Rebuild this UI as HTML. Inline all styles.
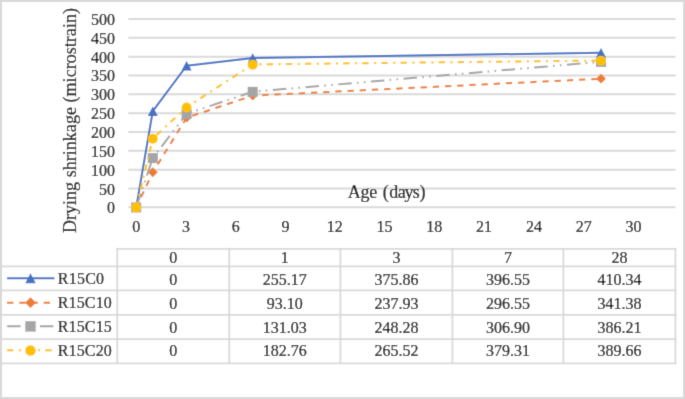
<!DOCTYPE html><html><head><meta charset="utf-8"><style>html,body{margin:0;padding:0;background:#fff;}svg{display:block;will-change:transform;}text{font-family:"Liberation Serif", serif;font-size:16px;fill:#000;stroke:#000;stroke-width:0.2px;}</style></head><body>
<svg width="685" height="399" viewBox="0 0 685 399">
<defs><filter id="bl" x="0" y="0" width="685" height="399" filterUnits="userSpaceOnUse"><feConvolveMatrix order="3" kernelMatrix="0.0144 0.0912 0.0144 0.0912 0.5776 0.0912 0.0144 0.0912 0.0144" divisor="1" edgeMode="duplicate" preserveAlpha="false"/></filter></defs>
<g filter="url(#bl)">
<rect x="0" y="0" width="685" height="399" fill="#fff"/>
<line x1="128.3" y1="207.35" x2="675.5" y2="207.35" stroke="#d9d9d9" stroke-width="2"/>
<line x1="128.3" y1="188.51" x2="675.5" y2="188.51" stroke="#d9d9d9" stroke-width="2"/>
<line x1="128.3" y1="169.67" x2="675.5" y2="169.67" stroke="#d9d9d9" stroke-width="2"/>
<line x1="128.3" y1="150.83" x2="675.5" y2="150.83" stroke="#d9d9d9" stroke-width="2"/>
<line x1="128.3" y1="131.99" x2="675.5" y2="131.99" stroke="#d9d9d9" stroke-width="2"/>
<line x1="128.3" y1="113.15" x2="675.5" y2="113.15" stroke="#d9d9d9" stroke-width="2"/>
<line x1="128.3" y1="94.31" x2="675.5" y2="94.31" stroke="#d9d9d9" stroke-width="2"/>
<line x1="128.3" y1="75.47" x2="675.5" y2="75.47" stroke="#d9d9d9" stroke-width="2"/>
<line x1="128.3" y1="56.63" x2="675.5" y2="56.63" stroke="#d9d9d9" stroke-width="2"/>
<line x1="128.3" y1="37.79" x2="675.5" y2="37.79" stroke="#d9d9d9" stroke-width="2"/>
<line x1="128.3" y1="18.95" x2="675.5" y2="18.95" stroke="#d9d9d9" stroke-width="2"/>
<text x="115" y="213.35" text-anchor="end">0</text>
<text x="115" y="194.51" text-anchor="end">50</text>
<text x="115" y="175.67" text-anchor="end">100</text>
<text x="115" y="156.83" text-anchor="end">150</text>
<text x="115" y="137.99" text-anchor="end">200</text>
<text x="115" y="119.15" text-anchor="end">250</text>
<text x="115" y="100.31" text-anchor="end">300</text>
<text x="115" y="81.47" text-anchor="end">350</text>
<text x="115" y="62.63" text-anchor="end">400</text>
<text x="115" y="43.79" text-anchor="end">450</text>
<text x="115" y="24.95" text-anchor="end">500</text>
<text x="136.20" y="232.1" text-anchor="middle">0</text>
<text x="186.00" y="232.1" text-anchor="middle">3</text>
<text x="235.80" y="232.1" text-anchor="middle">6</text>
<text x="285.60" y="232.1" text-anchor="middle">9</text>
<text x="334.70" y="232.1" text-anchor="middle">12</text>
<text x="384.50" y="232.1" text-anchor="middle">15</text>
<text x="434.30" y="232.1" text-anchor="middle">18</text>
<text x="484.10" y="232.1" text-anchor="middle">21</text>
<text x="533.90" y="232.1" text-anchor="middle">24</text>
<text x="583.70" y="232.1" text-anchor="middle">27</text>
<text x="633.50" y="232.1" text-anchor="middle">30</text>
<text x="347.7 360.53 369.36 377.19 382.83 389.16 397.69 404.62 412.85 419.4" y="197.5" style="font-size:18px">Age (days)</text>
<text transform="translate(76.1,233.1) rotate(-90)" style="font-size:18px" textLength="225.1" lengthAdjust="spacing">Drying shrinkage (microstrain)</text>
<path d="M136.20 207.35 L152.80 111.20 L186.60 65.73 L252.70 57.93 L601.00 52.73" fill="none" stroke="#4472C4" stroke-width="2" stroke-linejoin="round"/>
<path d="M136.20 202.65 L141.20 212.05 L131.20 212.05 Z" fill="#4472C4"/>
<path d="M152.80 106.50 L157.80 115.90 L147.80 115.90 Z" fill="#4472C4"/>
<path d="M186.60 61.03 L191.60 70.43 L181.60 70.43 Z" fill="#4472C4"/>
<path d="M252.70 53.23 L257.70 62.63 L247.70 62.63 Z" fill="#4472C4"/>
<path d="M601.00 48.03 L606.00 57.43 L596.00 57.43 Z" fill="#4472C4"/>
<path d="M136.20 207.35 L152.80 172.27 L186.60 117.70 L252.70 95.61 L601.00 78.72" fill="none" stroke="#ED7D31" stroke-width="2" stroke-linejoin="round" stroke-dasharray="6.3 5.9" stroke-dashoffset="0.8"/>
<path d="M136.20 202.45 L141.10 207.35 L136.20 212.25 L131.30 207.35 Z" fill="#ED7D31"/>
<path d="M152.80 167.37 L157.70 172.27 L152.80 177.17 L147.90 172.27 Z" fill="#ED7D31"/>
<path d="M186.60 112.80 L191.50 117.70 L186.60 122.60 L181.70 117.70 Z" fill="#ED7D31"/>
<path d="M252.70 90.71 L257.60 95.61 L252.70 100.51 L247.80 95.61 Z" fill="#ED7D31"/>
<path d="M601.00 73.82 L605.90 78.72 L601.00 83.62 L596.10 78.72 Z" fill="#ED7D31"/>
<path d="M136.20 207.35 L152.80 157.98 L186.60 113.80 L252.70 91.71 L601.00 61.83" fill="none" stroke="#A5A5A5" stroke-width="2" stroke-linejoin="round" stroke-dasharray="13.5 5.3 1.6 5.3 1.6 5.5" stroke-dashoffset="-0.8"/>
<rect x="131.20" y="202.45" width="10.00" height="10.00" fill="#A5A5A5"/>
<rect x="147.80" y="153.08" width="10.00" height="10.00" fill="#A5A5A5"/>
<rect x="181.60" y="108.90" width="10.00" height="10.00" fill="#A5A5A5"/>
<rect x="247.70" y="86.81" width="10.00" height="10.00" fill="#A5A5A5"/>
<rect x="596.00" y="56.93" width="10.00" height="10.00" fill="#A5A5A5"/>
<path d="M136.20 207.35 L152.80 138.49 L186.60 107.30 L252.70 64.43 L601.00 60.53" fill="none" stroke="#FFC000" stroke-width="2" stroke-linejoin="round" stroke-dasharray="6.3 5.5 2.1 5.2" stroke-dashoffset="0.4"/>
<circle cx="136.20" cy="207.60" r="5.00" fill="#FFC000"/>
<circle cx="152.80" cy="138.74" r="5.00" fill="#FFC000"/>
<circle cx="186.60" cy="107.55" r="5.00" fill="#FFC000"/>
<circle cx="252.70" cy="64.68" r="5.00" fill="#FFC000"/>
<circle cx="601.00" cy="60.78" r="5.00" fill="#FFC000"/>
<line x1="116.4" y1="248.8" x2="676.3" y2="248.8" stroke="#d9d9d9" stroke-width="1.8"/>
<line x1="2" y1="266.3" x2="676.3" y2="266.3" stroke="#d9d9d9" stroke-width="1.8"/>
<line x1="2" y1="290.4" x2="676.3" y2="290.4" stroke="#d9d9d9" stroke-width="1.8"/>
<line x1="2" y1="314.9" x2="676.3" y2="314.9" stroke="#d9d9d9" stroke-width="1.8"/>
<line x1="2" y1="339.1" x2="676.3" y2="339.1" stroke="#d9d9d9" stroke-width="1.8"/>
<line x1="2" y1="363.3" x2="676.3" y2="363.3" stroke="#d9d9d9" stroke-width="1.8"/>
<line x1="117.3" y1="247.9" x2="117.3" y2="364.2" stroke="#d9d9d9" stroke-width="1.8"/>
<line x1="229.3" y1="247.9" x2="229.3" y2="364.2" stroke="#d9d9d9" stroke-width="1.8"/>
<line x1="340.4" y1="247.9" x2="340.4" y2="364.2" stroke="#d9d9d9" stroke-width="1.8"/>
<line x1="452.4" y1="247.9" x2="452.4" y2="364.2" stroke="#d9d9d9" stroke-width="1.8"/>
<line x1="563.4" y1="247.9" x2="563.4" y2="364.2" stroke="#d9d9d9" stroke-width="1.8"/>
<line x1="675.4" y1="247.9" x2="675.4" y2="364.2" stroke="#d9d9d9" stroke-width="1.8"/>
<text x="173.26" y="262.9" text-anchor="middle">0</text>
<text x="284.82" y="262.9" text-anchor="middle">1</text>
<text x="396.39" y="262.9" text-anchor="middle">3</text>
<text x="507.89" y="262.9" text-anchor="middle">7</text>
<text x="619.39" y="262.9" text-anchor="middle">28</text>
<text x="173.26" y="284.50" text-anchor="middle">0</text>
<text x="284.82" y="284.50" text-anchor="middle">255.17</text>
<text x="396.39" y="284.50" text-anchor="middle">375.86</text>
<text x="507.89" y="284.50" text-anchor="middle">396.55</text>
<text x="619.39" y="284.50" text-anchor="middle">410.34</text>
<line x1="7.1" y1="278.20" x2="54.4" y2="278.20" stroke="#4472C4" stroke-width="2"/>
<path d="M30.50 273.26 L35.75 283.13 L25.25 283.13 Z" fill="#4472C4"/>
<text x="57.8" y="283.60" textLength="46.3" lengthAdjust="spacing">R15C0</text>
<text x="173.26" y="308.90" text-anchor="middle">0</text>
<text x="284.82" y="308.90" text-anchor="middle">93.10</text>
<text x="396.39" y="308.90" text-anchor="middle">237.93</text>
<text x="507.89" y="308.90" text-anchor="middle">296.55</text>
<text x="619.39" y="308.90" text-anchor="middle">341.38</text>
<line x1="7.1" y1="302.70" x2="54.4" y2="302.70" stroke="#ED7D31" stroke-width="2" stroke-dasharray="6.3 5.9"/>
<path d="M30.50 297.31 L35.89 302.70 L30.50 308.09 L25.11 302.70 Z" fill="#ED7D31"/>
<text x="57.8" y="308.10" textLength="54.0" lengthAdjust="spacing">R15C10</text>
<text x="173.26" y="332.60" text-anchor="middle">0</text>
<text x="284.82" y="332.60" text-anchor="middle">131.03</text>
<text x="396.39" y="332.60" text-anchor="middle">248.28</text>
<text x="507.89" y="332.60" text-anchor="middle">306.90</text>
<text x="619.39" y="332.60" text-anchor="middle">386.21</text>
<line x1="7.1" y1="326.30" x2="54.4" y2="326.30" stroke="#A5A5A5" stroke-width="2" stroke-dasharray="13.5 5.3 1.6 5.3 1.6 5.5"/>
<rect x="25.30" y="321.20" width="10.40" height="10.40" fill="#A5A5A5"/>
<text x="57.8" y="332.20" textLength="54.0" lengthAdjust="spacing">R15C15</text>
<text x="173.26" y="356.00" text-anchor="middle">0</text>
<text x="284.82" y="356.00" text-anchor="middle">182.76</text>
<text x="396.39" y="356.00" text-anchor="middle">265.52</text>
<text x="507.89" y="356.00" text-anchor="middle">379.31</text>
<text x="619.39" y="356.00" text-anchor="middle">389.66</text>
<line x1="7.1" y1="350.30" x2="54.4" y2="350.30" stroke="#FFC000" stroke-width="2" stroke-dasharray="6.3 5.5 2.1 5.2"/>
<circle cx="30.50" cy="350.55" r="5.25" fill="#FFC000"/>
<text x="57.8" y="355.60" textLength="54.0" lengthAdjust="spacing">R15C20</text>
<rect x="1" y="1" width="683" height="397" fill="none" stroke="#d9d9d9" stroke-width="2"/>
</g></svg></body></html>
